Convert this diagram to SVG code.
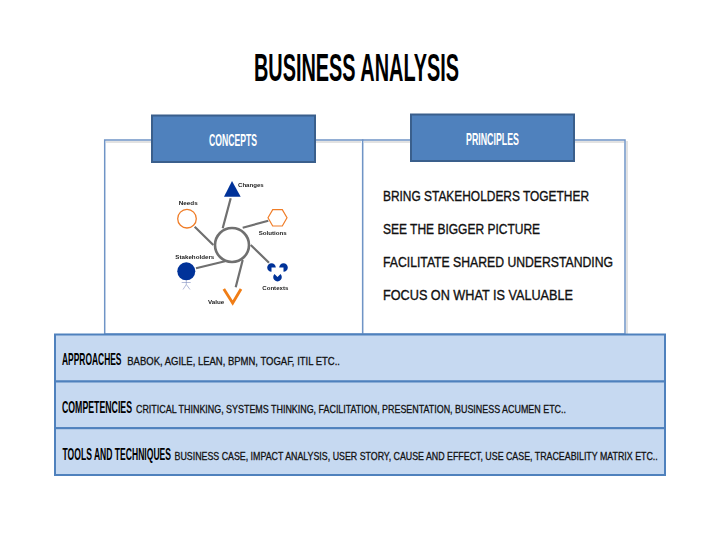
<svg xmlns="http://www.w3.org/2000/svg" width="720" height="540" viewBox="0 0 720 540">
<style>
text{font-family:"Liberation Sans",Arial,sans-serif;fill:#000}
.title{font-size:38px;font-weight:700}
.head{font-size:17px;font-weight:700;fill:#fff}
.pr{font-size:14.5px;fill:#111;stroke:#111;stroke-width:.35}
.bh{font-size:17px;font-weight:700}
.bt{font-size:11px;fill:#111;stroke:#111;stroke-width:.3}
.lb{font-size:6px;font-weight:700;fill:#222}
.panel{fill:#fff;stroke:#6f94c6;stroke-width:1.5}
.hd{fill:#4f81bd;stroke:#3a5f8c;stroke-width:2}
.band{fill:#c6d9f1;stroke:#4f81bd;stroke-width:2}
.spoke{stroke:#6f6f6f;stroke-width:2.2;fill:none}
.ln{stroke:#e2e2e2;stroke-width:2;fill:none}
</style>
<defs><filter id="soft" x="-5%" y="-5%" width="110%" height="110%"><feGaussianBlur stdDeviation="0.35"/></filter></defs>
<rect width="720" height="540" fill="#fff"/>
<text class="title" transform="translate(254 81) scale(.5 1)" textLength="410" lengthAdjust="spacingAndGlyphs">BUSINESS ANALYSIS</text>

<g id="panel-concepts">
<rect class="panel" x="104.7" y="140" width="258" height="194"/>
<path class="ln" d="M106 142H361"/>
</g>
<g id="panel-principles">
<path class="ln" d="M627 141V334"/>
<rect class="panel" x="362.7" y="140" width="262.3" height="194"/>
<path class="ln" d="M364 142H624"/>
</g>

<g id="concepts-header">
<rect class="hd" x="152" y="115.5" width="163" height="46.5"/>
<text class="head" transform="translate(209 146) scale(.5 1)" textLength="96" lengthAdjust="spacingAndGlyphs">CONCEPTS</text>
</g>
<g id="principles-header">
<rect class="hd" x="411" y="114.5" width="163" height="46.5"/>
<text class="head" transform="translate(466 145) scale(.5 1)" textLength="106" lengthAdjust="spacingAndGlyphs">PRINCIPLES</text>
</g>

<g id="concept-map" filter="url(#soft)">
<g id="connectors">
<path class="spoke" d="M230.7 198.3L222.7 228.3M194.7 226.7L213.3 245M242.7 227.7L268.3 220.7M250.7 245L269 262.7M196 268.3L225 261.3M242.7 260L235.7 287.3"/>
</g>
<g id="hub"><circle cx="232" cy="245" r="17" fill="#fff" stroke="#6f6f6f" stroke-width="2.6"/></g>
<g id="changes">
<polygon points="232,181 224,196.7 240.7,196.7" fill="#003399"/>
<text class="lb" x="238" y="186.7" textLength="25.7" lengthAdjust="spacingAndGlyphs">Changes</text>
</g>
<g id="needs">
<circle cx="187" cy="218.7" r="9.3" fill="#fff" stroke="#f07d28" stroke-width="1.3"/>
<text class="lb" x="178.7" y="205.3" textLength="19" lengthAdjust="spacingAndGlyphs">Needs</text>
</g>
<g id="solutions">
<polygon points="268,217.7 272.7,209.7 282.3,209.7 287,217.7 282.3,226 272.7,226" fill="#fff" stroke="#f07d28" stroke-width="1.2"/>
<text class="lb" x="258.7" y="234.7" textLength="28" lengthAdjust="spacingAndGlyphs">Solutions</text>
</g>
<g id="contexts">
<path fill="#003399" d="M271.5 267.5L275.8 267.5A4.3 4.3 0 1 0 271.5 271.8ZM283.5 267.5L279.2 267.5A4.3 4.3 0 1 1 283.5 271.8ZM277.5 277L274.5 274A4.3 4.3 0 1 0 280.5 274Z"/>
<text class="lb" x="262.3" y="289.7" textLength="26" lengthAdjust="spacingAndGlyphs">Contexts</text>
</g>
<g id="stakeholders">
<circle cx="186.3" cy="271.3" r="9" fill="#003399"/>
<path d="M186.3 280V284.5M181.7 282.5H190.7M186.3 284.5L183 289.5M186.3 284.5L190 289.5" stroke="#7f8fc0" stroke-width="0.6" fill="none"/>
<text class="lb" x="175.3" y="259.3" textLength="39" lengthAdjust="spacingAndGlyphs">Stakeholders</text>
</g>
<g id="value">
<path d="M223.8 289L232.7 303L241 289" fill="none" stroke="#f07d14" stroke-width="2.8"/>
<text class="lb" x="208" y="304" textLength="16.3" lengthAdjust="spacingAndGlyphs">Value</text>
</g>
</g>

<g id="principles-text">
<text class="pr" transform="translate(383 200.5) scale(.8 1)" textLength="257.5" lengthAdjust="spacingAndGlyphs">BRING STAKEHOLDERS TOGETHER</text>
<text class="pr" transform="translate(383 233.5) scale(.8 1)" textLength="196.3" lengthAdjust="spacingAndGlyphs">SEE THE BIGGER PICTURE</text>
<text class="pr" transform="translate(383 267) scale(.8 1)" textLength="287.5" lengthAdjust="spacingAndGlyphs">FACILITATE SHARED UNDERSTANDING</text>
<text class="pr" transform="translate(383 300) scale(.8 1)" textLength="237.5" lengthAdjust="spacingAndGlyphs">FOCUS ON WHAT IS VALUABLE</text>
</g>

<g id="approaches">
<rect class="band" x="55" y="334.5" width="610" height="47"/>
<text class="bh" transform="translate(62 364.7) scale(.5 1)" textLength="119" lengthAdjust="spacingAndGlyphs">APPROACHES</text>
<text class="bt" transform="translate(127.3 365) scale(.75 1)" textLength="283.6" lengthAdjust="spacingAndGlyphs">BABOK, AGILE, LEAN, BPMN, TOGAF, ITIL ETC..</text>
</g>
<g id="competencies">
<rect class="band" x="55" y="381.5" width="610" height="46.7"/>
<text class="bh" transform="translate(62 412.7) scale(.5 1)" textLength="140" lengthAdjust="spacingAndGlyphs">COMPETENCIES</text>
<text class="bt" transform="translate(136 412.7) scale(.75 1)" textLength="573.3" lengthAdjust="spacingAndGlyphs">CRITICAL THINKING, SYSTEMS THINKING, FACILITATION, PRESENTATION, BUSINESS ACUMEN ETC..</text>
</g>
<g id="tools">
<rect class="band" x="55" y="428.2" width="610" height="46.8"/>
<text class="bh" transform="translate(62.5 460) scale(.5 1)" textLength="217" lengthAdjust="spacingAndGlyphs">TOOLS AND TECHNIQUES</text>
<text class="bt" transform="translate(174.5 460) scale(.75 1)" textLength="644.3" lengthAdjust="spacingAndGlyphs">BUSINESS CASE, IMPACT ANALYSIS, USER STORY, CAUSE AND EFFECT, USE CASE, TRACEABILITY MATRIX ETC..</text>
</g>
</svg>
